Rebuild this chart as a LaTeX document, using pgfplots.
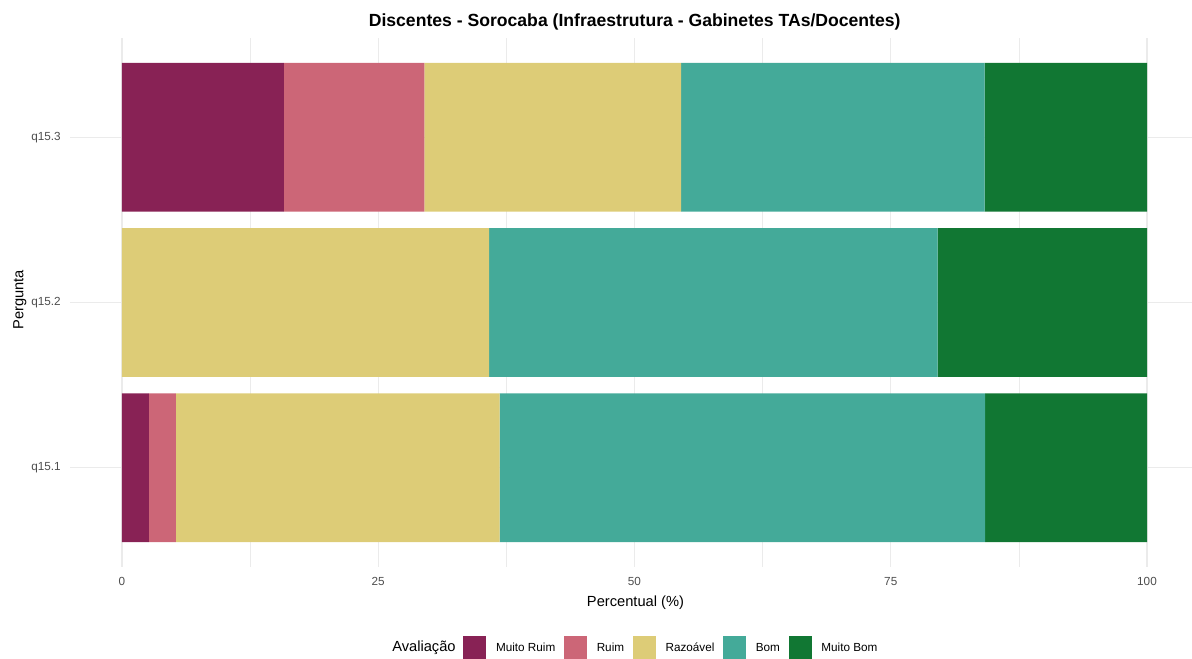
\documentclass[border=0pt]{standalone}
\usepackage{fontspec}
\setmainfont{Liberation Sans}
\usepackage{pgfplots}
\pgfplotsset{compat=1.18}
\usepackage{pgfplotstable}
\definecolor{cMR}{HTML}{882255}
\definecolor{cR}{HTML}{CC6677}
\definecolor{cRz}{HTML}{DDCC77}
\definecolor{cB}{HTML}{44AA99}
\definecolor{cMB}{HTML}{117733}
\definecolor{gridc}{HTML}{EBEBEB}
\definecolor{tickc}{HTML}{4D4D4D}

\pgfplotstableread{
y MR R Rz B MB
1 2.63 2.63 31.58 47.37 15.79
2 0 0 35.83 43.75 20.42
3 15.80 13.69 25.05 29.62 15.84
}\data

\begin{document}
\begin{tikzpicture}
\useasboundingbox (0,0) rectangle (894pt,494.25pt);
\begin{axis}[
  at={(52.5pt,69pt)}, anchor=south west,
  width=841.5pt, height=396.75pt, scale only axis,
  xbar stacked, bar width=0.9,
  xmin=-5.07, xmax=104.39, ymin=0.4, ymax=3.6,
  xtick={0,25,50,75,100}, minor xtick={12.5,37.5,62.5,87.5},
  ytick={1,2,3}, yticklabels={q15.1,q15.2,q15.3},
  axis line style={draw=none}, tick style={draw=none},
  xmajorgrids, ymajorgrids, xminorgrids,
  major grid style={gridc, line width=0.8pt},
  minor grid style={gridc, line width=0.5pt},
  /pgf/number format/assume math mode=true,
  tick label style={font=\fontsize{8.8}{10}\selectfont, text=tickc},
  xticklabel style={yshift=-4.5pt},
  yticklabel style={xshift=-3.5pt},
  xlabel={Percentual (\%)},
  ylabel={Pergunta},
  label style={font=\fontsize{11}{13}\selectfont},
  xlabel style={at={(axis description cs:0.504,-0.068)}, anchor=center},
  ylabel style={at={(axis description cs:-0.0446,0.505)}, anchor=center, rotate=0},
  legend columns=5,
  legend style={at={(axis description cs:0.3503,-0.153)}, anchor=west,
    draw=none, fill=none, inner xsep=0pt,
    font=\fontsize{8.8}{10}\selectfont,
    /tikz/every odd column/.append style={column sep=5.25pt},
    /tikz/every even column/.append style={column sep=4.5pt, text height=6.3pt, text depth=0pt}},
  legend image code/.code={\fill[#1] (0pt,-8.6pt) rectangle (17.3pt,8.6pt);},
]
\addplot[fill=cMR, draw=none] table[x=MR, y=y] {\data};
\addplot[fill=cR, draw=none] table[x=R, y=y] {\data};
\addplot[fill=cRz, draw=none] table[x=Rz, y=y] {\data};
\addplot[fill=cB, draw=none] table[x=B, y=y] {\data};
\addplot[fill=cMB, draw=none] table[x=MB, y=y] {\data};
\legend{Muito Ruim, Ruim, Razoável, Bom, Muito Bom}
\end{axis}
\node[font=\fontsize{13.2}{15}\selectfont\bfseries] at (476pt,477.75pt) {Discentes - Sorocaba (Infraestrutura - Gabinetes TAs/Docentes)};
\node[font=\fontsize{11}{13}\selectfont, anchor=west, inner sep=0pt] at (294pt,8.25pt) {Avaliação};
\end{tikzpicture}
\end{document}
